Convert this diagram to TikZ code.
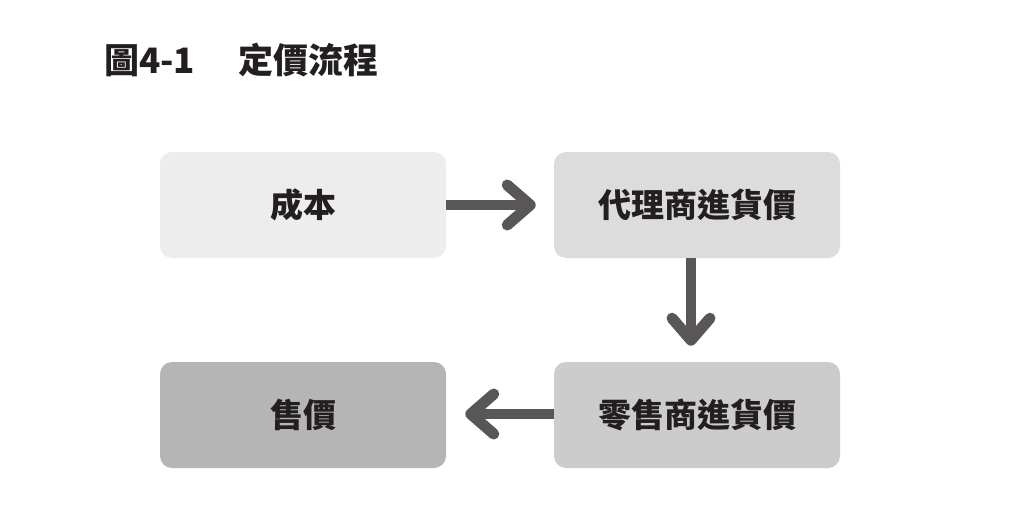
\documentclass[tikz,border=0pt]{standalone}
\usepackage{fontspec}
\newfontfamily\cjk{Noto Sans CJK TC}
\definecolor{txt}{HTML}{231F20}
\definecolor{arr}{HTML}{595657}
\definecolor{bA}{HTML}{EDEDED}
\definecolor{bB}{HTML}{DCDCDC}
\definecolor{bC}{HTML}{CCCCCC}
\definecolor{bD}{HTML}{B5B5B5}
\begin{document}
\begin{tikzpicture}[x=1pt,y=-1pt,
  box/.style={rounded corners=12pt,minimum width=286pt,minimum height=106pt,inner sep=0pt,
    font=\cjk\bfseries\fontsize{33}{33}\selectfont,text=txt},
  shaft/.style={draw=arr,line width=10.5pt},
  chev/.style={draw=arr,line width=11pt,line cap=round,line join=round}]
\useasboundingbox[fill=white] (0,0) rectangle (1024,532);
\node[anchor=west,font=\cjk\bfseries\fontsize{35}{35}\selectfont,text=txt,inner sep=0pt] (title) at (104,60) {圖4-1\hspace{1.25em}定價流程};
\node[box,fill=bA] (cost) at (303,205) {成本};
\node[box,fill=bB] (agent) at (697,205) {代理商進貨價};
\node[box,fill=bC] (retail) at (697,415) {零售商進貨價};
\node[box,fill=bD] (price) at (303,415) {售價};
% arrow 1
\coordinate (t1) at ([shift={(84,0)}]cost.east);
\draw[shaft] (cost.east) -- ([shift={(-5,0)}]t1);
\draw[chev] ([shift={(-23,-20)}]t1) -- (t1) -- ([shift={(-23,20)}]t1);
% arrow 2
\coordinate (s2) at ([shift={(-6,0)}]agent.south);
\coordinate (t2) at ([shift={(0,82)}]s2);
\draw[shaft] (s2) -- ([shift={(0,-5)}]t2);
\draw[chev] ([shift={(-19,-22)}]t2) -- (t2) -- ([shift={(19,-22)}]t2);
% arrow 3
\coordinate (s3) at ([shift={(0,-1)}]retail.west);
\coordinate (t3) at ([shift={(-83,0)}]s3);
\draw[shaft] (s3) -- ([shift={(5,0)}]t3);
\draw[chev] ([shift={(23,-20)}]t3) -- (t3) -- ([shift={(23,20)}]t3);
\end{tikzpicture}
\end{document}
